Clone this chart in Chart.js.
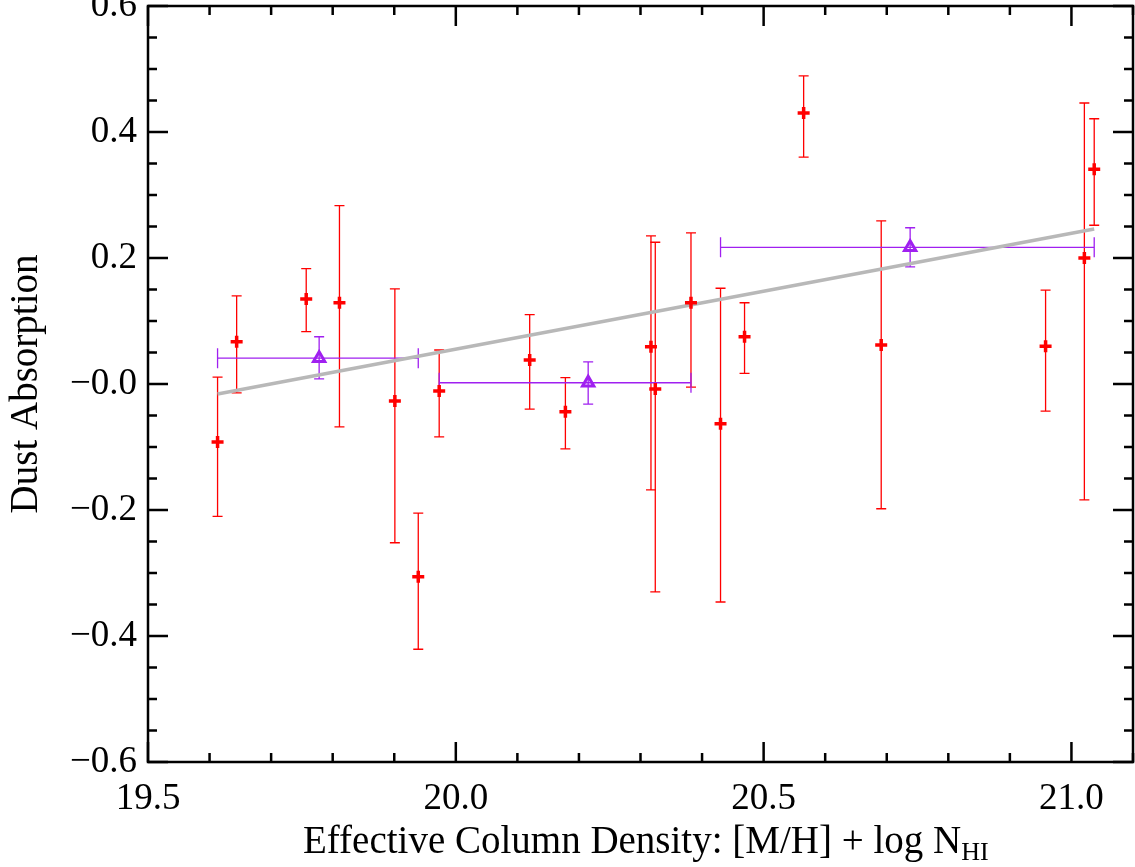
<!DOCTYPE html>
<html>
<head>
<meta charset="utf-8">
<script src="https://cdn.jsdelivr.net/npm/chart.js@4.4.1/dist/chart.umd.min.js"></script>
<style>
  body { margin: 0; background: #fff; }
  #wrap { width: 1135px; height: 867px; }
</style>
</head>
<body>
<div id="wrap"><canvas id="dustChart" width="1135" height="867"></canvas></div>
<script>
// individual absorbers: x, y and the top / bottom of the error bar
const redX  = [19.613, 19.644, 19.757, 19.811, 19.901, 19.939, 19.973, 20.120, 20.178, 20.317,
               20.324, 20.382, 20.430, 20.469, 20.565, 20.691, 20.958, 21.021, 21.037];
const redY  = [-0.092, 0.067, 0.135, 0.129, -0.027, -0.306, -0.011, 0.038, -0.044, 0.059,
               -0.008, 0.129, -0.063, 0.075, 0.430, 0.062, 0.060, 0.200, 0.341];
const redHi = [0.011, 0.140, 0.183, 0.283, 0.151, -0.205, 0.054, 0.110, 0.010, 0.235,
               0.225, 0.240, 0.152, 0.129, 0.489, 0.259, 0.149, 0.446, 0.421];
const redLo = [-0.210, -0.014, 0.083, -0.068, -0.252, -0.421, -0.084, -0.040, -0.103, -0.168,
               -0.330, -0.005, -0.346, 0.017, 0.360, -0.198, -0.043, -0.184, 0.252];

// binned means (purple triangles)
const binX   = [19.778, 20.215, 20.738];
const binY   = [0.041, 0.002, 0.217];
const binYHi = [0.075, 0.035, 0.248];
const binYLo = [0.008, -0.032, 0.186];
const binXLo = [19.613, 19.973, 20.430];
const binXHi = [19.939, 20.382, 21.037];

// linear fit
const fitX = [19.613, 21.037];
const fitY = [-0.016, 0.246];

// axes
const xMajor = [19.5, 20.0, 20.5, 21.0];
const yMajor = [-0.6, -0.4, -0.2, 0.0, 0.2, 0.4, 0.6];
const xMinorStep = 0.1;
const yMinorStep = 0.05;

const RED = '#ff0000';
const PURPLE = '#a020f0';
const FONT = 'Liberation Serif';

function steps(min, max, step) {
    const out = [];
    for (let i = 0; min + i * step <= max + 1e-9; i++) out.push(+(min + i * step).toFixed(3));
    return out;
}

const errorBars = {
    id: 'errorBars',
    beforeDatasetsDraw(chart) {
        const {ctx, scales: {x, y}} = chart;
        ctx.save();
        ctx.lineWidth = 1.3;
        ctx.strokeStyle = RED;
        redX.forEach((v, i) => {
            const px = x.getPixelForValue(v);
            const top = y.getPixelForValue(redHi[i]);
            const bot = y.getPixelForValue(redLo[i]);
            ctx.beginPath();
            ctx.moveTo(px, top); ctx.lineTo(px, bot);
            ctx.moveTo(px - 5, top); ctx.lineTo(px + 5, top);
            ctx.moveTo(px - 5, bot); ctx.lineTo(px + 5, bot);
            ctx.stroke();
        });
        ctx.strokeStyle = PURPLE;
        binX.forEach((v, i) => {
            const px = x.getPixelForValue(v);
            const py = y.getPixelForValue(binY[i]);
            const top = y.getPixelForValue(binYHi[i]);
            const bot = y.getPixelForValue(binYLo[i]);
            const l = x.getPixelForValue(binXLo[i]);
            const r = x.getPixelForValue(binXHi[i]);
            ctx.beginPath();
            ctx.moveTo(px, top); ctx.lineTo(px, bot);
            ctx.moveTo(px - 5, top); ctx.lineTo(px + 5, top);
            ctx.moveTo(px - 5, bot); ctx.lineTo(px + 5, bot);
            ctx.moveTo(l, py); ctx.lineTo(r, py);
            ctx.moveTo(l, py - 10); ctx.lineTo(l, py + 10);
            ctx.moveTo(r, py - 10); ctx.lineTo(r, py + 10);
            ctx.stroke();
        });
        ctx.restore();
    }
};

const frame = {
    id: 'frame',
    afterDraw(chart) {
        const {ctx, chartArea: a, scales: {x, y}} = chart;
        ctx.save();
        ctx.strokeStyle = '#000';
        ctx.lineWidth = 2.5;
        ctx.strokeRect(a.left, a.top, a.right - a.left, a.bottom - a.top);
        ctx.beginPath();
        steps(x.min, x.max, xMinorStep).forEach(v => {
            const len = xMajor.some(m => Math.abs(m - v) < 1e-6) ? 20 : 9;
            const px = x.getPixelForValue(v);
            ctx.moveTo(px, a.bottom); ctx.lineTo(px, a.bottom - len);
            ctx.moveTo(px, a.top); ctx.lineTo(px, a.top + len);
        });
        steps(y.min, y.max, yMinorStep).forEach(v => {
            const len = yMajor.some(m => Math.abs(m - v) < 1e-6) ? 20 : 9;
            const py = y.getPixelForValue(v);
            ctx.moveTo(a.left, py); ctx.lineTo(a.left + len, py);
            ctx.moveTo(a.right, py); ctx.lineTo(a.right - len, py);
        });
        ctx.stroke();

        // x title with subscript
        const main = 'Effective Column Density: [M/H] + log N';
        const sub = 'HI';
        ctx.fillStyle = '#000';
        ctx.textBaseline = 'alphabetic';
        ctx.textAlign = 'left';
        ctx.font = '39px "' + FONT + '"';
        const wMain = ctx.measureText(main).width;
        ctx.font = '26px "' + FONT + '"';
        const wSub = ctx.measureText(sub).width;
        const start = 303;
        ctx.font = '39px "' + FONT + '"';
        ctx.fillText(main, start, 853);
        ctx.font = '26px "' + FONT + '"';
        ctx.fillText(sub, start + wMain, 860);
        ctx.restore();
    }
};

new Chart(document.getElementById('dustChart'), {
    type: 'scatter',
    data: {
        datasets: [
            {
                data: redX.map((v, i) => ({x: v, y: redY[i]})),
                pointStyle: 'cross',
                pointRadius: 6,
                borderWidth: 3.5,
                borderColor: RED,
                backgroundColor: RED
            },
            {
                type: 'line',
                data: fitX.map((v, i) => ({x: v, y: fitY[i]})),
                borderColor: '#b8b8b8',
                borderWidth: 3.5,
                pointRadius: 0,
                fill: false
            },
            {
                data: binX.map((v, i) => ({x: v, y: binY[i]})),
                pointStyle: 'triangle',
                pointRadius: 6.5,
                borderWidth: 3,
                borderColor: PURPLE,
                backgroundColor: 'rgba(255,255,255,0)'
            }
        ]
    },
    options: {
        responsive: false,
        animation: false,
        devicePixelRatio: 1,
        layout: { autoPadding: false, padding: { top: 6, right: 2, left: 0, bottom: 0 } },
        plugins: {
            legend: { display: false },
            tooltip: { enabled: false }
        },
        scales: {
            x: {
                type: 'linear',
                min: 19.5,
                max: 21.1,
                grid: { display: false },
                border: { display: false },
                afterBuildTicks: s => { s.ticks = xMajor.map(v => ({value: v})); },
                afterFit: s => {
                    s.height = 105;
                    s.paddingLeft = 0;
                    s.paddingRight = 0;
                },
                ticks: {
                    color: '#000',
                    padding: 7,
                    maxRotation: 0,
                    font: { family: FONT, size: 37 },
                    callback: v => v.toFixed(1)
                }
            },
            y: {
                min: -0.6,
                max: 0.6,
                grid: { display: false },
                border: { display: false },
                afterBuildTicks: s => { s.ticks = yMajor.map(v => ({value: v})); },
                afterFit: s => {
                    s.width = 148;
                    s.paddingTop = 0;
                    s.paddingBottom = 0;
                },
                title: {
                    display: true,
                    text: 'Dust Absorption',
                    color: '#000',
                    padding: { top: 3, bottom: 0 },
                    font: { family: FONT, size: 39 }
                },
                ticks: {
                    color: '#000',
                    padding: 3,
                    font: { family: FONT, size: 37 },
                    callback: v => {
                        if (Math.abs(v) < 1e-9) return '\u22120.0';
                        return (v < 0 ? '\u2212' : '') + Math.abs(v).toFixed(1);
                    }
                }
            }
        }
    },
    plugins: [errorBars, frame]
});
</script>
</body>
</html>
